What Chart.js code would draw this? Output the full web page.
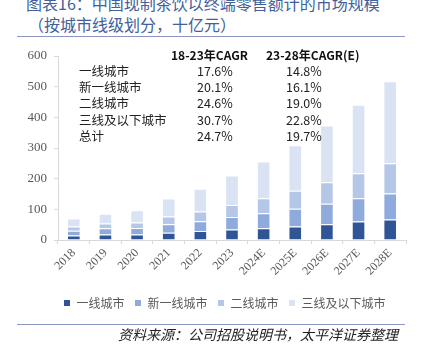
<!DOCTYPE html>
<html><head><meta charset="utf-8">
<script src="https://cdn.jsdelivr.net/npm/chart.js@4/dist/chart.umd.min.js"></script>
<style>
html,body{margin:0;padding:0;background:#fff;}
body{width:426px;height:355px;position:relative;overflow:hidden;font-family:"Noto Sans CJK SC",sans-serif;}
.tt{position:absolute;white-space:nowrap;color:#41609c;font-size:16px;line-height:21px;}
#t1{left:26px;top:-7px;}
#t2{left:28px;top:14px;}
.hl{position:absolute;left:17px;width:388px;height:1px;background:#8a96bf;}
#src{position:absolute;right:28px;top:325px;font-size:14px;line-height:18px;font-style:italic;color:#222;white-space:nowrap;}
canvas{position:absolute;left:0;top:0;}
</style></head>
<body>
<div class="tt" id="t1">图表16：中国现制茶饮以终端零售额计的市场规模</div>
<div class="tt" id="t2">（按城市线级划分，十亿元）</div>
<div class="hl" style="top:36px"></div>
<canvas id="c" width="426" height="355"></canvas>
<div class="hl" style="top:324px"></div>
<div id="src">资料来源：公司招股说明书，太平洋证券整理</div>
<script>
const categories = ['2018','2019','2020','2021','2022','2023','2024E','2025E','2026E','2027E','2028E'];
const seriesNames = ['一线城市','新一线城市','二线城市','三线及以下城市'];
const tier1 = [15,18,18,24,29,34,38,44,51,60,67];
const newTier1 = [15,20,21,27,32,41,49,58,67,76,85];
const tier2 = [14,16,18,26,32,39,49,59,70,82,98];
const tier3 = [26,32,40,58,74,96,120,148,185,223,268];
const yTicks = [0,100,200,300,400,500,600];
const cagrHeaders = ['18-23年CAGR','23-28年CAGR(E)'];
const cagrRows = ['一线城市','新一线城市','二线城市','三线及以下城市','总计'];
const cagr1823 = ['17.6%','20.1%','24.6%','30.7%','24.7%'];
const cagr2328 = ['14.8%','16.1%','19.0%','22.8%','19.7%'];

const colors = ['#2f5597','#8faadc','#b4c7e7','#dae3f3'];
const seriesData = [tier1,newTier1,tier2,tier3];

const tablePlugin = {
  id:'cagrTable',
  afterLayout(chart){
    const lg = chart.legend;
    if (lg) { lg.left += 21.5; lg.right += 21.5; }
  },
  afterDraw(chart){
    const ctx = chart.ctx;
    ctx.save();
    ctx.textBaseline = 'middle';
    ctx.textAlign = 'left';
    ctx.fillStyle = '#111';
    ctx.font = 'bold 12px "Noto Sans CJK SC"';
    ctx.fillText(cagrHeaders[0], 171, 55);
    ctx.fillText(cagrHeaders[1], 266, 55);
    ctx.font = '12.5px "Noto Sans CJK SC"';
    const ys = [71.5,87.7,103.7,120,136.5];
    cagrRows.forEach((r,i)=>{
      ctx.fillStyle = '#222';
      ctx.fillText(r, 79, ys[i]);
      ctx.fillText(cagr1823[i], 197, ys[i]);
      ctx.fillText(cagr2328[i], 286, ys[i]);
    });
    ctx.restore();
  }
};

new Chart(document.getElementById('c'), {
  type:'bar',
  data:{
    labels: categories,
    datasets: seriesData.map((d,i)=>({
      label: seriesNames[i],
      data: d,
      backgroundColor: colors[i],
      borderColor: '#ffffff',
      borderWidth: 1,
      barPercentage: 0.43,
      categoryPercentage: 1
    }))
  },
  options:{
    responsive:false,
    animation:false,
    layout:{padding:{top:56,right:20,left:0,bottom:36}},
    plugins:{
      tooltip:{enabled:false},
      legend:{
        position:'bottom',
        labels:{
          boxWidth:7, boxHeight:7, padding:10,
          color:'#595959',
          font:{family:'"Noto Sans CJK SC"', size:12}
        }
      }
    },
    scales:{
      x:{
        stacked:true,
        afterFit(s){ s.height = 47; },
        grid:{display:true, drawOnChartArea:false, drawTicks:true, tickLength:4, color:'#d9d9d9', offset:true},
        border:{display:true, color:'#d9d9d9'},
        ticks:{minRotation:45, maxRotation:45, color:'#595959', padding:2,
               font:{family:'"Liberation Serif"', size:12}}
      },
      y:{
        stacked:true,
        min:0, max:600,
        afterFit(s){ s.width = 58; },
        afterBuildTicks(s){ s.ticks = yTicks.map(v=>({value:v})); },
        grid:{display:true, drawOnChartArea:false, drawTicks:true, tickLength:4, color:'#d9d9d9'},
        border:{display:true, color:'#d9d9d9'},
        ticks:{color:'#595959', padding:7, font:{family:'"Liberation Serif"', size:13}}
      }
    }
  },
  plugins:[tablePlugin]
});
</script>
</body></html>
